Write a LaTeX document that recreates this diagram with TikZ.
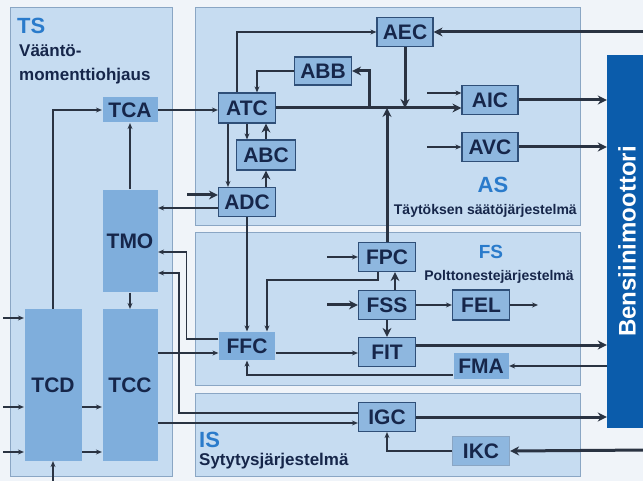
\documentclass[tikz,border=0pt]{standalone}
\usepackage{fontspec}
\setmainfont{Liberation Sans}
\usetikzlibrary{arrows.meta}

\definecolor{bgcol}{HTML}{F0F4F9}
\definecolor{panelfill}{HTML}{C6DCF1}
\definecolor{panelline}{HTML}{8AA6C4}
\definecolor{boxfill}{HTML}{8EB7DF}
\definecolor{boxline}{HTML}{2F4F78}
\definecolor{plainfill}{HTML}{7FAEDC}
\definecolor{navy}{HTML}{16264A}
\definecolor{titleblue}{HTML}{2A7BCB}
\definecolor{wire}{HTML}{2A3342}
\definecolor{enginecol}{HTML}{0B5CAB}

\begin{document}
\begin{tikzpicture}[x=1pt, y=-1pt,
    ctrl/.style={draw=boxline, line width=1.2pt, fill=boxfill, text=navy,
        font=\fontsize{21}{22}\selectfont\bfseries, inner sep=0pt,
        minimum width=57pt, minimum height=29pt},
    plain/.style={ctrl, draw=none, fill=plainfill},
    panel/.style={fill=panelfill, draw=panelline, line width=1pt},
    title/.style={text=titleblue, font=\fontsize{22}{22}\selectfont\bfseries, inner sep=0pt},
    sub/.style={text=navy, font=\fontsize{14}{16}\selectfont\bfseries, inner sep=0pt},
    arr/.style={draw=wire, line width=1.2pt, -{Stealth[length=6pt,width=5pt]}},
    thickarr/.style={draw=wire, line width=3pt, -{Stealth[length=9pt,width=9pt]}}]

    \useasboundingbox (0,0) rectangle (643,481);
    \fill[bgcol] (0,0) rectangle (643,481);

    % Panels
    \draw[panel] (10,8) rectangle (172,476);
    \draw[panel] (195,8) rectangle (580,226);
    \draw[panel] (195,233) rectangle (580,385);
    \draw[panel] (195,393) rectangle (580,476);

    % Engine
    \node[fill=enginecol, minimum width=40pt, minimum height=373pt, inner sep=0pt,
        label={[rotate=90, text=white, font=\fontsize{24}{26}\selectfont\bfseries]center:Bensiinimoottori}]
        (engine) at (627,241.5) {};

    % Panel titles
    \node[title, anchor=west] (tslbl) at (17,26) {TS};
    \node[sub, anchor=west, align=left, font=\fontsize{17}{24}\selectfont\bfseries] (tssub) at (19,64) {Vääntö-\\momenttiohjaus};
    \node[title] (aslbl) at (493,185) {AS};
    \node[sub, anchor=east] (assub) at (577,211) {Täytöksen säätöjärjestelmä};
    \node[title, font=\fontsize{19}{20}\selectfont\bfseries] (fslbl) at (491,252) {FS};
    \node[sub] (fssub) at (499,277) {Polttonestejärjestelmä};
    \node[title, anchor=west] (islbl) at (199,440) {IS};
    \node[sub, anchor=west, font=\fontsize{17}{18}\selectfont\bfseries] (issub) at (199,461) {Sytytysjärjestelmä};

    % TS blocks
    \node[plain, minimum width=55pt, minimum height=25pt] (tca) at (130,110) {TCA};
    \node[plain, minimum width=55pt, minimum height=102pt] (tmo) at (130,241) {TMO};
    \node[plain, minimum width=57pt, minimum height=151pt] (tcd) at (53,385) {TCD};
    \node[plain, minimum width=55pt, minimum height=151pt] (tcc) at (130,385) {TCC};

    % AS blocks
    \node[ctrl, minimum width=56pt] (aec) at (405,32) {AEC};
    \node[ctrl, minimum height=28pt] (abb) at (323,71) {ABB};
    \node[ctrl, minimum height=30pt] (atc) at (247,108) {ATC};
    \node[ctrl, minimum width=59pt, minimum height=30pt] (abc) at (266,155) {ABC};
    \node[ctrl] (adc) at (247,202) {ADC};
    \node[ctrl, minimum width=56pt] (aic) at (490,100) {AIC};
    \node[ctrl, minimum width=56pt] (avc) at (490,147) {AVC};

    % FS blocks
    \node[ctrl] (fpc) at (387,257) {FPC};
    \node[ctrl] (fss) at (387,305) {FSS};
    \node[ctrl] (fit) at (387,352) {FIT};
    \node[plain, minimum width=56pt, minimum height=28pt] (ffc) at (247,346) {FFC};
    \node[ctrl, minimum height=30pt] (fel) at (481,305) {FEL};
    \node[plain, minimum width=55pt, minimum height=26pt] (fma) at (481,366) {FMA};

    % IS blocks
    \node[ctrl] (igc) at (387,417) {IGC};
    \node[ctrl, draw=panelline] (ikc) at (481,451) {IKC};

    % Free ends
    \coordinate (aecin) at (650,32);
    \coordinate (aicin) at (427,93);
    \coordinate (avcin) at (427,147);
    \coordinate (abbtap) at (369,108);
    \coordinate (adcin) at (187,195);
    \coordinate (fpcin) at (327,257);
    \coordinate (fssin) at (327,305);
    \coordinate (felout) at (538,305);
    \coordinate (ikcin) at (650,450);
    \coordinate (tcdin1) at (3,318);
    \coordinate (tcdin2) at (3,407);
    \coordinate (tcdin3) at (3,452);
    \coordinate (tcdin4) at (53,485);

    % Air system
    \draw[thickarr] (aecin) -- (aec.east);
    \draw[arr] ([xshift=-10pt]atc.north) |- (aec.west);
    \draw[thickarr] (aec.south) -- (aec.south |- atc.east);
    \draw[thickarr] (atc.east) -- (atc.east -| aic.west);
    \draw[arr] (aicin) -- (aicin -| aic.west);
    \draw[arr] (avcin) -- (avc.west);
    \draw[thickarr] (aic.east) -- (aic.east -| engine.west);
    \draw[thickarr] (avc.east) -- (avc.east -| engine.west);
    \draw[thickarr] (abbtap) |- (abb.east);
    \draw[arr] (abb.west) -| ([xshift=10pt]atc.north);
    \draw[arr] (atc.south) -- (atc.south |- abc.north);
    \draw[thickarr, line width=2.2pt] (abc.north) -- (abc.north |- atc.south);
    \draw[thickarr, line width=2.2pt] (adc.north -| abc.south) -- (abc.south);
    \draw[arr] ([xshift=-19pt]atc.south) -- ([xshift=-19pt]adc.north);
    \draw[thickarr] (adcin) -- (adcin -| adc.west);
    \draw[arr] ([yshift=-6pt]adc.west) -- ([yshift=-6pt]adc.west -| tmo.east);
    \draw[arr] (adc.south) -- (adc.south |- ffc.north);
    \draw[thickarr] (fpc.north) -- (fpc.north |- atc.east);

    % Torque system
    \draw[arr] (tmo.north) -- (tca.south);
    \draw[arr] (tca.east) -- (tca.east -| atc.west);
    \draw[arr] (tcd.north) |- (tca.west);
    \draw[arr] (tmo.south) -- (tcc.north);
    \draw[arr] (tcdin1) -- (tcdin1 -| tcd.west);
    \draw[arr] (tcdin2) -- (tcdin2 -| tcd.west);
    \draw[arr] (tcdin3) -- (tcdin3 -| tcd.west);
    \draw[arr] (tcdin4) -- (tcd.south);
    \draw[arr] (tcdin2 -| tcd.east) -- (tcdin2 -| tcc.west);
    \draw[arr] (tcdin3 -| tcd.east) -- (tcdin3 -| tcc.west);
    \draw[arr] ([yshift=-7pt]ffc.west -| tcc.east) -- ([yshift=-7pt]ffc.west);
    \draw[arr] ([yshift=7pt]ffc.west) -- ++(-32,0) |- ([yshift=-11pt]tmo.east);
    \draw[arr] ([yshift=4pt]igc.west) -- ++(-179,0) |- ([yshift=-32pt]tmo.east);
    \draw[arr] ([yshift=-6pt]igc.west -| tcc.east) -- ([yshift=-6pt]igc.west);

    % Fuel system
    \draw[arr] ([xshift=-9pt]fpc.south) -- ++(0,8) -| ([xshift=20pt]ffc.north);
    \draw[arr] (fpcin) -- (fpc.west);
    \draw[thickarr, line width=2.2pt] ([xshift=8pt]fss.north) -- ([xshift=8pt]fpc.south);
    \draw[thickarr, line width=2.2pt] (fss.south) -- (fit.north);
    \draw[thickarr] (fssin) -- (fss.west);
    \draw[arr] (fss.east) -- (fel.west);
    \draw[arr] (fel.east) -- (felout);
    \draw[arr] ([yshift=-7pt]ffc.east) -- ([yshift=-7pt]ffc.east -| fit.west);
    \draw[thickarr] ([yshift=7pt]fit.east) -- ([yshift=7pt]fit.east -| engine.west);
    \draw[arr] (engine.west |- fma.east) -- (fma.east);
    \draw[arr] ([yshift=-9pt]fma.west) -| (ffc.south);

    % Ignition system
    \draw[thickarr] (igc.east) -- (igc.east -| engine.west);
    \draw[thickarr] (ikcin) -- (ikc.east);
    \draw[arr] (ikc.west) -| (igc.south);
\end{tikzpicture}
\end{document}
